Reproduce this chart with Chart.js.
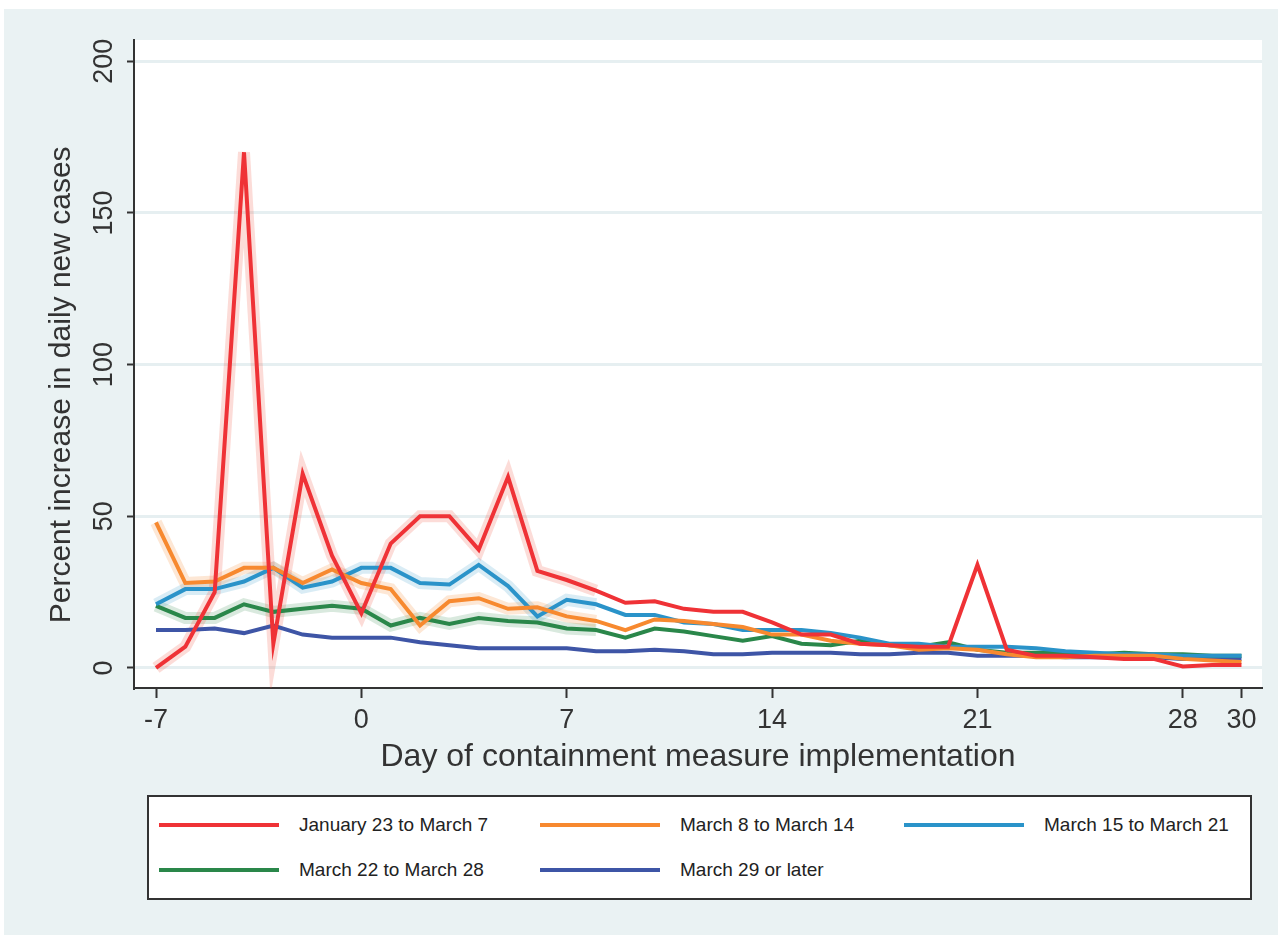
<!DOCTYPE html>
<html>
<head>
<meta charset="utf-8">
<script src="https://cdn.jsdelivr.net/npm/chart.js@4"></script>
<style>
  body { margin: 0; background: #fff; }
  #wrap { position: relative; width: 1281px; height: 938px; }
  #legend {
    position: absolute; left: 147px; top: 795px; width: 1101px; height: 101px;
    border: 2px solid #333; background: #fff;
    font-family: 'Liberation Sans', Arial, sans-serif; font-size: 19px; color: #222;
  }
  .item { position: absolute; height: 24px; }
  .item .line { position: absolute; left: 0; top: 10px; width: 120px; height: 4px; }
  .item .label { position: absolute; left: 140px; top: 0; white-space: nowrap; line-height: 24px; }
</style>
</head>
<body>
<div id="wrap">
  <canvas id="myChart" width="1281" height="938"></canvas>
  <div id="legend"></div>
</div>
<script>
// day relative to containment measure
const days = [-7, -6, -5, -4, -3, -2, -1, 0, 1, 2, 3, 4, 5, 6, 7, 8, 9, 10, 11, 12,
              13, 14, 15, 16, 17, 18, 19, 20, 21, 22, 23, 24, 25, 26, 27, 28, 29, 30];
const xTicks = [-7, 0, 7, 14, 21, 28, 30];
const yTicks = [0, 50, 100, 150, 200];

const seriesNames = ['January 23 to March 7', 'March 8 to March 14', 'March 15 to March 21',
                     'March 22 to March 28', 'March 29 or later'];

const jan23ToMar7 = [0, 7, 25, 170, 8, 64, 37, 18, 41, 50, 50, 39, 63, 32, 29, 25.5, 21.5, 22, 19.5, 18.5,
                     18.5, 15, 11, 11, 8, 7.5, 7, 7, 34, 6, 4, 4, 3.5, 3, 3, 0.5, 1, 1];
const mar8ToMar14 = [48, 28, 28.5, 33, 33, 28, 32.5, 28, 26, 14, 22, 23, 19.5, 20, 17, 15.5, 12.5, 16, 15.5, 14.5,
                     13.5, 11, 11, 9, 8, 7.5, 6, 6.5, 6, 4.5, 3.5, 3.5, 4, 4, 4, 3, 2.5, 2];
const mar15ToMar21 = [21, 26, 26, 28.5, 33, 26.5, 28.5, 33, 33, 28, 27.5, 34, 27, 17, 22.5, 21, 17.5, 17.5, 15, 14.5,
                      12.5, 12.5, 12.5, 11.5, 10, 8, 8, 7, 7, 7, 6.5, 5.5, 5, 4.5, 4.5, 4, 4, 4];
const mar22ToMar28 = [20.5, 16.5, 16.5, 21, 18.5, 19.5, 20.5, 19.5, 14, 16.5, 14.5, 16.5, 15.5, 15, 13, 12.5, 10, 13, 12, 10.5,
                      9, 10.5, 8, 7.5, 9, 7.5, 7, 8.5, 6, 5, 5, 5, 4.5, 5, 4.5, 4.5, 4, 4];
const mar29Later = [12.5, 12.5, 13, 11.5, 14, 11, 10, 10, 10, 8.5, 7.5, 6.5, 6.5, 6.5, 6.5, 5.5, 5.5, 6, 5.5, 4.5,
                    4.5, 5, 5, 5, 4.5, 4.5, 5, 5, 4, 4, 4, 3.5, 3.5, 3.5, 3.5, 3, 3, 3];

const allSeries = [jan23ToMar7, mar8ToMar14, mar15ToMar21, mar22ToMar28, mar29Later];
const colors = ['#ef3236', '#f7892f', '#2a93c9', '#2a874a', '#3e55a6'];
const haloColors = ['rgba(239,80,60,0.2)', 'rgba(247,137,47,0.2)', 'rgba(42,147,201,0.18)',
                    'rgba(42,135,74,0.18)', 'rgba(62,85,166,0)'];

function toPoints(values) {
    return days.map((d, i) => ({ x: d, y: values[i] }));
}

let datasets = [];
allSeries.forEach((values, i) => {
    datasets.push({
        label: seriesNames[i],
        data: toPoints(values),
        borderColor: colors[i],
        borderWidth: 4,
        pointRadius: 0,
        order: i
    });
});
// faint bands around the early part of each line
allSeries.forEach((values, i) => {
    datasets.push({
        label: 'band',
        data: toPoints(values),
        borderColor: haloColors[i],
        borderWidth: 12,
        pointRadius: 0,
        order: 10 + i,
        segment: {
            borderColor: ctx => ctx.p1.parsed.x <= 8 ? haloColors[i] : 'rgba(0,0,0,0)'
        }
    });
});

const background = {
    id: 'background',
    beforeDraw(chart) {
        const c = chart.ctx;
        const a = chart.chartArea;
        c.save();
        c.fillStyle = '#fff';
        c.fillRect(0, 0, chart.width, chart.height);
        c.fillStyle = '#eaf2f3';
        c.fillRect(4, 9, 1274, 926);
        c.fillStyle = '#fff';
        c.fillRect(a.left, a.top, a.right - a.left, a.bottom - a.top);
        c.restore();
    }
};

const fontFamily = "'Liberation Sans', Arial, sans-serif";

new Chart(document.getElementById('myChart'), {
    type: 'line',
    data: { datasets: datasets },
    options: {
        responsive: false,
        animation: false,
        devicePixelRatio: 1,
        layout: { padding: { left: 0, top: 40, right: 19, bottom: 150 } },
        plugins: { legend: { display: false }, tooltip: { enabled: false } },
        scales: {
            x: {
                type: 'linear',
                min: -7.75,
                max: 30.7,
                afterBuildTicks: scale => { scale.ticks = xTicks.map(v => ({ value: v })); },
                afterFit: scale => { scale.height = 100; },
                ticks: { color: '#333', font: { family: fontFamily, size: 27 }, padding: 6, maxRotation: 0, autoSkip: false },
                grid: { drawOnChartArea: false, tickLength: 10, tickColor: '#333', tickWidth: 2 },
                border: { color: '#333', width: 2 },
                title: {
                    display: true, text: 'Day of containment measure implementation',
                    color: '#333', font: { family: fontFamily, size: 32 }, padding: { bottom: 12 }
                }
            },
            y: {
                min: -6.6,
                max: 207,
                afterBuildTicks: scale => { scale.ticks = yTicks.map(v => ({ value: v })); },
                afterFit: scale => { scale.width = 134; },
                ticks: { color: '#333', font: { family: fontFamily, size: 27 }, padding: 0,
                         minRotation: 90, maxRotation: 90, crossAlign: 'center', autoSkip: false },
                grid: { color: '#e6eff1', lineWidth: 3, tickLength: 7, tickColor: '#333', tickWidth: 2 },
                border: { color: '#333', width: 2 },
                title: {
                    display: true, text: 'Percent increase in daily new cases     ',
                    color: '#333', font: { family: fontFamily, size: 30 }, padding: { top: 44 }
                }
            }
        }
    },
    plugins: [background]
});

// legend in the same layout as the original
const legendPos = [[10, 16], [391, 16], [755, 16], [10, 61], [391, 61]];
let output = "";
seriesNames.forEach((name, i) => {
    output += `
    <div class="item" style="left:${legendPos[i][0]}px; top:${legendPos[i][1]}px;">
        <span class="line" style="background:${colors[i]}"></span>
        <span class="label">${name}</span>
    </div>`;
});
document.getElementById('legend').innerHTML = output;
</script>
</body>
</html>
